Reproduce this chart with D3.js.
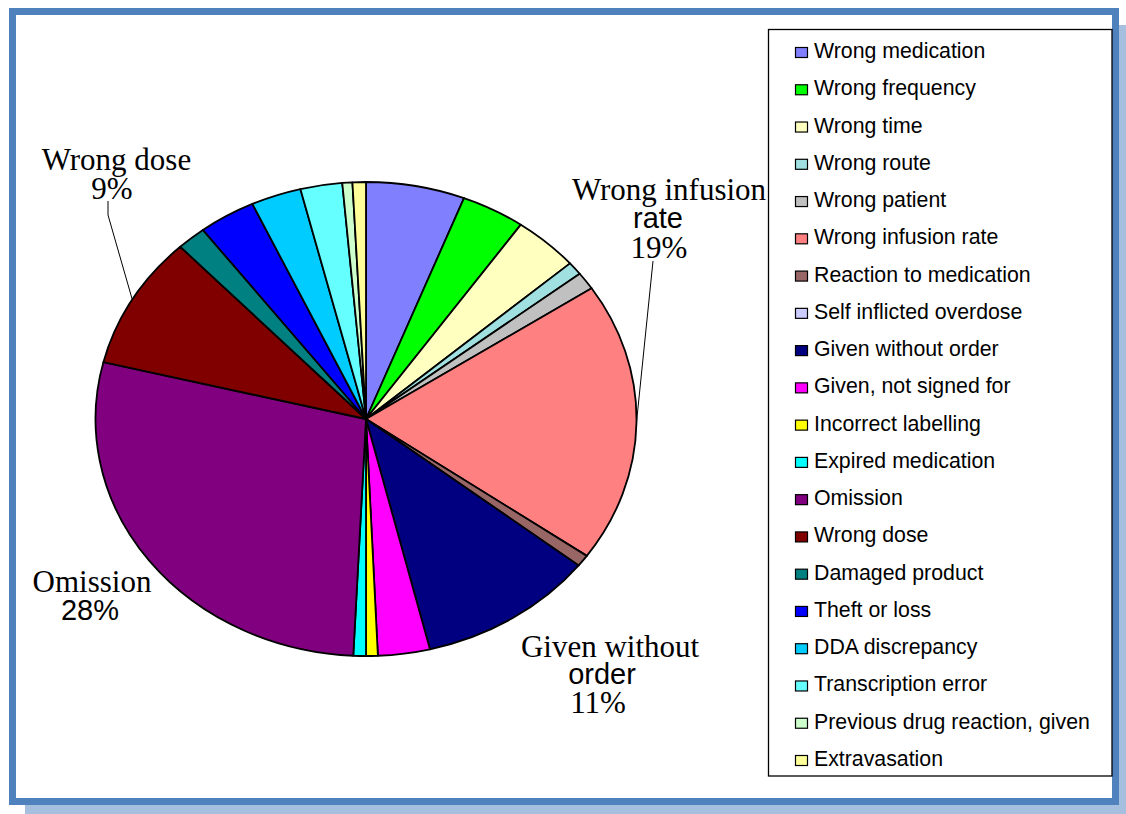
<!DOCTYPE html>
<html>
<head>
<meta charset="utf-8">
<script src="https://cdn.jsdelivr.net/npm/d3@7"></script>
<style>
  html, body { margin: 0; padding: 0; background: #ffffff; }
  svg { display: block; }
</style>
</head>
<body>
<svg id="chart" width="1126" height="814"></svg>
<script>
// Medication incident categories, in slice order (clockwise from 12 o'clock)
const categories = [
  "Wrong medication", "Wrong frequency", "Wrong time", "Wrong route",
  "Wrong patient", "Wrong infusion rate", "Reaction to medication",
  "Self inflicted overdose", "Given without order", "Given, not signed for",
  "Incorrect labelling", "Expired medication", "Omission", "Wrong dose",
  "Damaged product", "Theft or loss", "DDA discrepancy", "Transcription error",
  "Previous drug reaction, given", "Extravasation"
];

// Share of incidents (%)
const values = [
  5.9, 3.8, 3.9, 0.9,
  1.2, 19.1, 0.8,
  0, 10.6, 3.1,
  0.7, 0.75, 28.1, 9.1,
  1.75, 3.4, 3.0, 2.5,
  0.6, 0.8
];

const colors = [
  "#8080FF", "#00FF00", "#FFFFC0", "#A0E0E0",
  "#C0C0C0", "#FF8080", "#996666", "#CCCCFF",
  "#000080", "#FF00FF", "#FFFF00", "#00FFFF",
  "#800080", "#800000", "#008080", "#0000FF",
  "#00CCFF", "#66FFFF", "#CCFFCC", "#FFFF99"
];

// Categories that get a callout label on the pie
const labelled = ["Wrong infusion rate", "Given without order", "Omission", "Wrong dose"];

const W = 1126, H = 814;
const svg = d3.select("#chart");

// ---- frame with drop shadow ----
svg.append("rect")
  .attr("x", 25).attr("y", 25).attr("width", W - 25).attr("height", H - 25)
  .attr("fill", "#A7BFDE");
svg.append("rect")
  .attr("x", 12.5).attr("y", 11.5).attr("width", 1103).attr("height", 790)
  .attr("fill", "#ffffff")
  .attr("stroke", "#4F81BD").attr("stroke-width", 7);

// ---- pie (flattened into an ellipse) ----
const cx = 366, cy = 419, rx = 270.5, ry = 237;

const pie = d3.pie().sort(null).value(d => d.value)
  .startAngle(0).endAngle(2 * Math.PI);
const data = categories.map((c, i) => ({ name: c, value: values[i], color: colors[i] }));
const arcs = pie(data);
const total = d3.sum(values);
const pct = d3.format(".0%");

const arc = d3.arc().innerRadius(0).outerRadius(rx);

const gPie = svg.append("g")
  .attr("transform", `translate(${cx},${cy}) scale(1,${ry / rx})`);

gPie.selectAll("path.slice")
  .data(arcs.filter(a => a.endAngle - a.startAngle > 0))
  .join("path")
  .attr("class", "slice")
  .attr("d", arc)
  .attr("fill", d => d.data.color)
  .attr("stroke", "#000")
  .attr("stroke-width", 1.8)
  .attr("stroke-linejoin", "round")
  .attr("vector-effect", "non-scaling-stroke");

// point on the ellipse rim at the middle of a slice
function rimPoint(a) {
  const t = (a.startAngle + a.endAngle) / 2;
  return [cx + rx * Math.sin(t), cy - ry * Math.cos(t)];
}

// ---- callout labels ----
const serif = "'Liberation Serif', 'Times New Roman', serif";
const sans = "'Liberation Sans', Arial, sans-serif";

// text lines: [text, x, baseline, font]; leader: start points before the rim
const layout = {
  "Wrong infusion rate": {
    lines: [["Wrong infusion", 669, 200, serif], ["rate", 658, 228, sans], ["%", 659, 258, serif]],
    leader: [[653, 261]]
  },
  "Given without order": {
    lines: [["Given without", 610, 657, serif], ["order", 602, 684, sans], ["%", 598, 713, serif]],
    leader: null
  },
  "Omission": {
    lines: [["Omission", 92, 592, serif], ["%", 90, 620, sans]],
    leader: null
  },
  "Wrong dose": {
    lines: [["Wrong dose", 116.5, 170, serif], ["%", 112, 199, serif]],
    leader: [[108, 201], [108, 215]]
  }
};

const gLab = svg.append("g");
arcs.filter(a => labelled.includes(a.data.name)).forEach(a => {
  const L = layout[a.data.name];
  const txt = gLab.append("text")
    .attr("text-anchor", "middle")
    .attr("fill", "#000");
  L.lines.forEach(([t, x, y, f]) => {
    txt.append("tspan")
      .attr("x", x).attr("y", y)
      .attr("font-family", f)
      .attr("font-size", f === serif ? 31 : 29)
      .text(t === "%" ? pct(a.data.value / total) : t);
  });
  if (L.leader) {
    const pts = L.leader.concat([rimPoint(a)]);
    gLab.append("path")
      .attr("d", d3.line()(pts))
      .attr("fill", "none")
      .attr("stroke", "#000")
      .attr("stroke-width", 1);
  }
});

// ---- legend ----
const lg = svg.append("g");
lg.append("rect")
  .attr("x", 768.5).attr("y", 29.5).attr("width", 1112 - 768.5).attr("height", 776 - 29.5)
  .attr("fill", "#fff").attr("stroke", "#000").attr("stroke-width", 1.3);

const rowY = d3.scalePoint().domain(categories).range([58, 766]);

const item = lg.selectAll("g.item").data(data).join("g")
  .attr("class", "item")
  .attr("transform", d => `translate(0,${rowY(d.name)})`);
item.append("rect")
  .attr("x", 795.5).attr("y", -10.5).attr("width", 12).attr("height", 10)
  .attr("fill", d => d.color).attr("stroke", "#000").attr("stroke-width", 1.2);
item.append("text")
  .attr("x", 814).attr("y", 0)
  .attr("font-family", sans).attr("font-size", 21.3)
  .attr("fill", "#000")
  .text(d => d.name);
</script>
</body>
</html>
